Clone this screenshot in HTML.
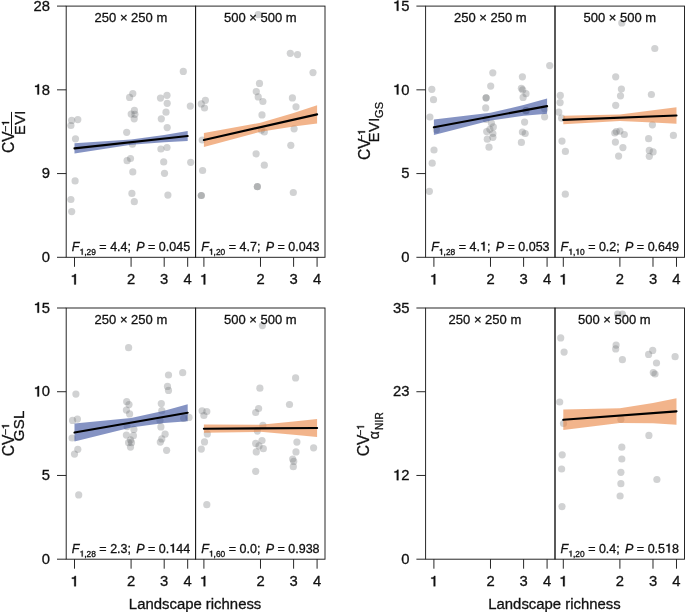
<!DOCTYPE html>
<html><head><meta charset="utf-8"><style>
html,body{margin:0;padding:0;background:#fff;width:685px;height:612px;overflow:hidden}
svg{display:block;font-family:"Liberation Sans",sans-serif;fill:#000;will-change:transform}
text{fill:#111;stroke:#111;stroke-width:0.3px}
</style></head><body>
<svg width="685" height="612" viewBox="0 0 685 612">
<rect width="685" height="612" fill="#fff"/>
<circle cx="183.3" cy="71.4" r="3.6" fill="rgba(108,110,114,0.31)"/>
<circle cx="132.8" cy="93.6" r="3.6" fill="rgba(108,110,114,0.31)"/>
<circle cx="129.6" cy="97.4" r="3.6" fill="rgba(108,110,114,0.31)"/>
<circle cx="167" cy="95.3" r="3.6" fill="rgba(108,110,114,0.31)"/>
<circle cx="160.5" cy="98.1" r="3.6" fill="rgba(108,110,114,0.31)"/>
<circle cx="167.2" cy="103.3" r="3.6" fill="rgba(108,110,114,0.31)"/>
<circle cx="190.3" cy="106.1" r="3.6" fill="rgba(108,110,114,0.31)"/>
<circle cx="134.4" cy="110.4" r="3.6" fill="rgba(108,110,114,0.31)"/>
<circle cx="131.2" cy="114.1" r="3.6" fill="rgba(108,110,114,0.31)"/>
<circle cx="134.9" cy="114.3" r="3.6" fill="rgba(108,110,114,0.31)"/>
<circle cx="134.2" cy="118.8" r="3.6" fill="rgba(108,110,114,0.31)"/>
<circle cx="166" cy="112.2" r="3.6" fill="rgba(108,110,114,0.31)"/>
<circle cx="161.3" cy="118.8" r="3.6" fill="rgba(108,110,114,0.31)"/>
<circle cx="167.2" cy="127.6" r="3.6" fill="rgba(108,110,114,0.31)"/>
<circle cx="126.7" cy="132.3" r="3.6" fill="rgba(108,110,114,0.31)"/>
<circle cx="71.7" cy="120.4" r="3.6" fill="rgba(108,110,114,0.31)"/>
<circle cx="77.8" cy="119.6" r="3.6" fill="rgba(108,110,114,0.31)"/>
<circle cx="70.9" cy="125.5" r="3.6" fill="rgba(108,110,114,0.31)"/>
<circle cx="75.5" cy="138.8" r="3.6" fill="rgba(108,110,114,0.31)"/>
<circle cx="132.4" cy="144.2" r="3.6" fill="rgba(108,110,114,0.31)"/>
<circle cx="160.9" cy="149" r="3.6" fill="rgba(108,110,114,0.31)"/>
<circle cx="167" cy="147.5" r="3.6" fill="rgba(108,110,114,0.31)"/>
<circle cx="130.5" cy="158.5" r="3.6" fill="rgba(108,110,114,0.31)"/>
<circle cx="127.1" cy="160.7" r="3.6" fill="rgba(108,110,114,0.31)"/>
<circle cx="163.7" cy="161.9" r="3.6" fill="rgba(108,110,114,0.31)"/>
<circle cx="190.7" cy="162.3" r="3.6" fill="rgba(108,110,114,0.31)"/>
<circle cx="132.8" cy="171.9" r="3.6" fill="rgba(108,110,114,0.31)"/>
<circle cx="164.5" cy="173.3" r="3.6" fill="rgba(108,110,114,0.31)"/>
<circle cx="75.1" cy="180.9" r="3.6" fill="rgba(108,110,114,0.31)"/>
<circle cx="131.9" cy="193.4" r="3.6" fill="rgba(108,110,114,0.31)"/>
<circle cx="167.9" cy="195.1" r="3.6" fill="rgba(108,110,114,0.31)"/>
<circle cx="134.3" cy="201.7" r="3.6" fill="rgba(108,110,114,0.31)"/>
<circle cx="70.9" cy="199.5" r="3.6" fill="rgba(108,110,114,0.31)"/>
<circle cx="71.7" cy="211.6" r="3.6" fill="rgba(108,110,114,0.31)"/>
<circle cx="258.2" cy="14.7" r="3.6" fill="rgba(108,110,114,0.31)"/>
<circle cx="290.3" cy="53.3" r="3.6" fill="rgba(108,110,114,0.31)"/>
<circle cx="297.5" cy="54.6" r="3.6" fill="rgba(108,110,114,0.31)"/>
<circle cx="313" cy="72.6" r="3.6" fill="rgba(108,110,114,0.31)"/>
<circle cx="259.5" cy="83.4" r="3.6" fill="rgba(108,110,114,0.31)"/>
<circle cx="256.3" cy="91.6" r="3.6" fill="rgba(108,110,114,0.31)"/>
<circle cx="258.2" cy="96.9" r="3.6" fill="rgba(108,110,114,0.31)"/>
<circle cx="262.9" cy="101.5" r="3.6" fill="rgba(108,110,114,0.31)"/>
<circle cx="292.4" cy="97.9" r="3.6" fill="rgba(108,110,114,0.31)"/>
<circle cx="296" cy="106.8" r="3.6" fill="rgba(108,110,114,0.31)"/>
<circle cx="205.4" cy="100.3" r="3.6" fill="rgba(108,110,114,0.31)"/>
<circle cx="201.3" cy="103.9" r="3.6" fill="rgba(108,110,114,0.31)"/>
<circle cx="204.5" cy="108" r="3.6" fill="rgba(108,110,114,0.31)"/>
<circle cx="262" cy="114.9" r="3.6" fill="rgba(108,110,114,0.31)"/>
<circle cx="294.1" cy="128.8" r="3.6" fill="rgba(108,110,114,0.31)"/>
<circle cx="261.4" cy="130.1" r="3.6" fill="rgba(108,110,114,0.31)"/>
<circle cx="264.3" cy="132" r="3.6" fill="rgba(108,110,114,0.31)"/>
<circle cx="202.2" cy="140" r="3.6" fill="rgba(108,110,114,0.31)"/>
<circle cx="290.8" cy="145.3" r="3.6" fill="rgba(108,110,114,0.31)"/>
<circle cx="256.1" cy="153.8" r="3.6" fill="rgba(108,110,114,0.31)"/>
<circle cx="264.3" cy="165.2" r="3.6" fill="rgba(108,110,114,0.31)"/>
<circle cx="202.6" cy="170.5" r="3.6" fill="rgba(108,110,114,0.31)"/>
<circle cx="257.3" cy="186.7" r="3.6" fill="rgba(108,110,114,0.31)"/>
<circle cx="257.3" cy="186.7" r="3.6" fill="rgba(108,110,114,0.31)"/>
<circle cx="293.3" cy="192.5" r="3.6" fill="rgba(108,110,114,0.31)"/>
<circle cx="201.3" cy="195.5" r="3.6" fill="rgba(108,110,114,0.31)"/>
<circle cx="201.3" cy="195.5" r="3.6" fill="rgba(108,110,114,0.31)"/>
<circle cx="549.7" cy="65.6" r="3.6" fill="rgba(108,110,114,0.31)"/>
<circle cx="492.8" cy="72.8" r="3.6" fill="rgba(108,110,114,0.31)"/>
<circle cx="522.4" cy="76.8" r="3.6" fill="rgba(108,110,114,0.31)"/>
<circle cx="490.7" cy="86.1" r="3.6" fill="rgba(108,110,114,0.31)"/>
<circle cx="431.8" cy="89.3" r="3.6" fill="rgba(108,110,114,0.31)"/>
<circle cx="521.4" cy="88.3" r="3.6" fill="rgba(108,110,114,0.31)"/>
<circle cx="522.7" cy="89.9" r="3.6" fill="rgba(108,110,114,0.31)"/>
<circle cx="526" cy="93.7" r="3.6" fill="rgba(108,110,114,0.31)"/>
<circle cx="523.1" cy="97.4" r="3.6" fill="rgba(108,110,114,0.31)"/>
<circle cx="486.1" cy="97.8" r="3.6" fill="rgba(108,110,114,0.31)"/>
<circle cx="486.1" cy="97.8" r="3.6" fill="rgba(108,110,114,0.31)"/>
<circle cx="433.5" cy="99.7" r="3.6" fill="rgba(108,110,114,0.31)"/>
<circle cx="485.7" cy="107.9" r="3.6" fill="rgba(108,110,114,0.31)"/>
<circle cx="526" cy="110.7" r="3.6" fill="rgba(108,110,114,0.31)"/>
<circle cx="526" cy="110.7" r="3.6" fill="rgba(108,110,114,0.31)"/>
<circle cx="544.6" cy="108.8" r="3.6" fill="rgba(108,110,114,0.31)"/>
<circle cx="429.9" cy="117" r="3.6" fill="rgba(108,110,114,0.31)"/>
<circle cx="544.6" cy="116.8" r="3.6" fill="rgba(108,110,114,0.31)"/>
<circle cx="486.1" cy="119.3" r="3.6" fill="rgba(108,110,114,0.31)"/>
<circle cx="491.4" cy="123.1" r="3.6" fill="rgba(108,110,114,0.31)"/>
<circle cx="524.6" cy="122.1" r="3.6" fill="rgba(108,110,114,0.31)"/>
<circle cx="493.3" cy="126.9" r="3.6" fill="rgba(108,110,114,0.31)"/>
<circle cx="489.9" cy="129.3" r="3.6" fill="rgba(108,110,114,0.31)"/>
<circle cx="486.7" cy="131.6" r="3.6" fill="rgba(108,110,114,0.31)"/>
<circle cx="492.9" cy="133.5" r="3.6" fill="rgba(108,110,114,0.31)"/>
<circle cx="492.9" cy="137.3" r="3.6" fill="rgba(108,110,114,0.31)"/>
<circle cx="487.3" cy="139.2" r="3.6" fill="rgba(108,110,114,0.31)"/>
<circle cx="522.4" cy="132" r="3.6" fill="rgba(108,110,114,0.31)"/>
<circle cx="525.2" cy="133.5" r="3.6" fill="rgba(108,110,114,0.31)"/>
<circle cx="521.4" cy="142.4" r="3.6" fill="rgba(108,110,114,0.31)"/>
<circle cx="489" cy="147.2" r="3.6" fill="rgba(108,110,114,0.31)"/>
<circle cx="436.4" cy="129.7" r="3.6" fill="rgba(108,110,114,0.31)"/>
<circle cx="434" cy="150" r="3.6" fill="rgba(108,110,114,0.31)"/>
<circle cx="432.2" cy="163.2" r="3.6" fill="rgba(108,110,114,0.31)"/>
<circle cx="429.4" cy="191.3" r="3.6" fill="rgba(108,110,114,0.31)"/>
<circle cx="621.8" cy="22.9" r="3.6" fill="rgba(108,110,114,0.31)"/>
<circle cx="654.8" cy="48.5" r="3.6" fill="rgba(108,110,114,0.31)"/>
<circle cx="615.7" cy="76.8" r="3.6" fill="rgba(108,110,114,0.31)"/>
<circle cx="621.4" cy="89" r="3.6" fill="rgba(108,110,114,0.31)"/>
<circle cx="620.5" cy="95.8" r="3.6" fill="rgba(108,110,114,0.31)"/>
<circle cx="651.4" cy="94.5" r="3.6" fill="rgba(108,110,114,0.31)"/>
<circle cx="560.3" cy="95.4" r="3.6" fill="rgba(108,110,114,0.31)"/>
<circle cx="560.1" cy="102.6" r="3.6" fill="rgba(108,110,114,0.31)"/>
<circle cx="615.7" cy="105.3" r="3.6" fill="rgba(108,110,114,0.31)"/>
<circle cx="558.8" cy="112.1" r="3.6" fill="rgba(108,110,114,0.31)"/>
<circle cx="561.6" cy="118.2" r="3.6" fill="rgba(108,110,114,0.31)"/>
<circle cx="652.4" cy="124.8" r="3.6" fill="rgba(108,110,114,0.31)"/>
<circle cx="614.8" cy="133.0" r="3.6" fill="rgba(108,110,114,0.31)"/>
<circle cx="616.3" cy="131.6" r="3.6" fill="rgba(108,110,114,0.31)"/>
<circle cx="619.9" cy="131.1" r="3.6" fill="rgba(108,110,114,0.31)"/>
<circle cx="624.3" cy="134.5" r="3.6" fill="rgba(108,110,114,0.31)"/>
<circle cx="673.4" cy="135.4" r="3.6" fill="rgba(108,110,114,0.31)"/>
<circle cx="648.6" cy="138.7" r="3.6" fill="rgba(108,110,114,0.31)"/>
<circle cx="562" cy="141.1" r="3.6" fill="rgba(108,110,114,0.31)"/>
<circle cx="615.4" cy="142.1" r="3.6" fill="rgba(108,110,114,0.31)"/>
<circle cx="622.9" cy="147.6" r="3.6" fill="rgba(108,110,114,0.31)"/>
<circle cx="565.4" cy="151.4" r="3.6" fill="rgba(108,110,114,0.31)"/>
<circle cx="649.3" cy="150.4" r="3.6" fill="rgba(108,110,114,0.31)"/>
<circle cx="653.1" cy="151.9" r="3.6" fill="rgba(108,110,114,0.31)"/>
<circle cx="618.6" cy="156.1" r="3.6" fill="rgba(108,110,114,0.31)"/>
<circle cx="649.3" cy="156.3" r="3.6" fill="rgba(108,110,114,0.31)"/>
<circle cx="565.3" cy="194.2" r="3.6" fill="rgba(108,110,114,0.31)"/>
<circle cx="128.6" cy="347.7" r="3.6" fill="rgba(108,110,114,0.31)"/>
<circle cx="75.9" cy="394.1" r="3.6" fill="rgba(108,110,114,0.31)"/>
<circle cx="168.5" cy="375" r="3.6" fill="rgba(108,110,114,0.31)"/>
<circle cx="182.7" cy="372.7" r="3.6" fill="rgba(108,110,114,0.31)"/>
<circle cx="167.5" cy="386.4" r="3.6" fill="rgba(108,110,114,0.31)"/>
<circle cx="168.5" cy="390.4" r="3.6" fill="rgba(108,110,114,0.31)"/>
<circle cx="126.7" cy="401.7" r="3.6" fill="rgba(108,110,114,0.31)"/>
<circle cx="129" cy="404.6" r="3.6" fill="rgba(108,110,114,0.31)"/>
<circle cx="126.4" cy="410.1" r="3.6" fill="rgba(108,110,114,0.31)"/>
<circle cx="129.6" cy="413.9" r="3.6" fill="rgba(108,110,114,0.31)"/>
<circle cx="161.3" cy="403.6" r="3.6" fill="rgba(108,110,114,0.31)"/>
<circle cx="161.8" cy="410.7" r="3.6" fill="rgba(108,110,114,0.31)"/>
<circle cx="72.6" cy="420.4" r="3.6" fill="rgba(108,110,114,0.31)"/>
<circle cx="77.4" cy="419.1" r="3.6" fill="rgba(108,110,114,0.31)"/>
<circle cx="183.7" cy="418.3" r="3.6" fill="rgba(108,110,114,0.31)"/>
<circle cx="189" cy="417.4" r="3.6" fill="rgba(108,110,114,0.31)"/>
<circle cx="160" cy="420.5" r="3.6" fill="rgba(108,110,114,0.31)"/>
<circle cx="160.9" cy="426.9" r="3.6" fill="rgba(108,110,114,0.31)"/>
<circle cx="72.1" cy="438" r="3.6" fill="rgba(108,110,114,0.31)"/>
<circle cx="77.8" cy="449.3" r="3.6" fill="rgba(108,110,114,0.31)"/>
<circle cx="74.5" cy="454.1" r="3.6" fill="rgba(108,110,114,0.31)"/>
<circle cx="127.1" cy="426.6" r="3.6" fill="rgba(108,110,114,0.31)"/>
<circle cx="133.9" cy="429.4" r="3.6" fill="rgba(108,110,114,0.31)"/>
<circle cx="126.4" cy="435.1" r="3.6" fill="rgba(108,110,114,0.31)"/>
<circle cx="133.4" cy="435.7" r="3.6" fill="rgba(108,110,114,0.31)"/>
<circle cx="130.5" cy="439.9" r="3.6" fill="rgba(108,110,114,0.31)"/>
<circle cx="128.6" cy="442.7" r="3.6" fill="rgba(108,110,114,0.31)"/>
<circle cx="131.5" cy="442.7" r="3.6" fill="rgba(108,110,114,0.31)"/>
<circle cx="130.5" cy="447.1" r="3.6" fill="rgba(108,110,114,0.31)"/>
<circle cx="165.1" cy="434.2" r="3.6" fill="rgba(108,110,114,0.31)"/>
<circle cx="161.8" cy="438.9" r="3.6" fill="rgba(108,110,114,0.31)"/>
<circle cx="160.3" cy="442.1" r="3.6" fill="rgba(108,110,114,0.31)"/>
<circle cx="166.6" cy="450.3" r="3.6" fill="rgba(108,110,114,0.31)"/>
<circle cx="78.7" cy="494.9" r="3.6" fill="rgba(108,110,114,0.31)"/>
<circle cx="262.4" cy="325.6" r="3.6" fill="rgba(108,110,114,0.31)"/>
<circle cx="295.6" cy="377.9" r="3.6" fill="rgba(108,110,114,0.31)"/>
<circle cx="259.9" cy="388.2" r="3.6" fill="rgba(108,110,114,0.31)"/>
<circle cx="289.5" cy="404.5" r="3.6" fill="rgba(108,110,114,0.31)"/>
<circle cx="258.6" cy="408.5" r="3.6" fill="rgba(108,110,114,0.31)"/>
<circle cx="202.1" cy="410.8" r="3.6" fill="rgba(108,110,114,0.31)"/>
<circle cx="206.8" cy="411.5" r="3.6" fill="rgba(108,110,114,0.31)"/>
<circle cx="203.9" cy="415.5" r="3.6" fill="rgba(108,110,114,0.31)"/>
<circle cx="255.7" cy="412.5" r="3.6" fill="rgba(108,110,114,0.31)"/>
<circle cx="262.9" cy="425.4" r="3.6" fill="rgba(108,110,114,0.31)"/>
<circle cx="257.3" cy="431.1" r="3.6" fill="rgba(108,110,114,0.31)"/>
<circle cx="207.3" cy="433.9" r="3.6" fill="rgba(108,110,114,0.31)"/>
<circle cx="204.5" cy="441.9" r="3.6" fill="rgba(108,110,114,0.31)"/>
<circle cx="201.3" cy="449.1" r="3.6" fill="rgba(108,110,114,0.31)"/>
<circle cx="262" cy="440.5" r="3.6" fill="rgba(108,110,114,0.31)"/>
<circle cx="255.7" cy="443.4" r="3.6" fill="rgba(108,110,114,0.31)"/>
<circle cx="259" cy="445.9" r="3.6" fill="rgba(108,110,114,0.31)"/>
<circle cx="263.3" cy="448.7" r="3.6" fill="rgba(108,110,114,0.31)"/>
<circle cx="256.3" cy="451.9" r="3.6" fill="rgba(108,110,114,0.31)"/>
<circle cx="296.9" cy="442.1" r="3.6" fill="rgba(108,110,114,0.31)"/>
<circle cx="313.6" cy="447.8" r="3.6" fill="rgba(108,110,114,0.31)"/>
<circle cx="296" cy="451.9" r="3.6" fill="rgba(108,110,114,0.31)"/>
<circle cx="292.7" cy="459.1" r="3.6" fill="rgba(108,110,114,0.31)"/>
<circle cx="293.7" cy="461.4" r="3.6" fill="rgba(108,110,114,0.31)"/>
<circle cx="293.3" cy="466.7" r="3.6" fill="rgba(108,110,114,0.31)"/>
<circle cx="255.7" cy="471.3" r="3.6" fill="rgba(108,110,114,0.31)"/>
<circle cx="206.8" cy="504.7" r="3.6" fill="rgba(108,110,114,0.31)"/>
<circle cx="617.6" cy="314.2" r="3.6" fill="rgba(108,110,114,0.31)"/>
<circle cx="622.4" cy="314.2" r="3.6" fill="rgba(108,110,114,0.31)"/>
<circle cx="560.7" cy="337.9" r="3.6" fill="rgba(108,110,114,0.31)"/>
<circle cx="564.1" cy="352.1" r="3.6" fill="rgba(108,110,114,0.31)"/>
<circle cx="616.1" cy="345.1" r="3.6" fill="rgba(108,110,114,0.31)"/>
<circle cx="615.7" cy="348.9" r="3.6" fill="rgba(108,110,114,0.31)"/>
<circle cx="622.4" cy="359.7" r="3.6" fill="rgba(108,110,114,0.31)"/>
<circle cx="652.7" cy="350.4" r="3.6" fill="rgba(108,110,114,0.31)"/>
<circle cx="648.6" cy="354.4" r="3.6" fill="rgba(108,110,114,0.31)"/>
<circle cx="656.5" cy="363" r="3.6" fill="rgba(108,110,114,0.31)"/>
<circle cx="675.1" cy="356.7" r="3.6" fill="rgba(108,110,114,0.31)"/>
<circle cx="653.3" cy="372.6" r="3.6" fill="rgba(108,110,114,0.31)"/>
<circle cx="655" cy="374" r="3.6" fill="rgba(108,110,114,0.31)"/>
<circle cx="559.7" cy="402" r="3.6" fill="rgba(108,110,114,0.31)"/>
<circle cx="563.5" cy="423.5" r="3.6" fill="rgba(108,110,114,0.31)"/>
<circle cx="620.9" cy="419.3" r="3.6" fill="rgba(108,110,114,0.31)"/>
<circle cx="648.9" cy="435.4" r="3.6" fill="rgba(108,110,114,0.31)"/>
<circle cx="621.8" cy="447.2" r="3.6" fill="rgba(108,110,114,0.31)"/>
<circle cx="562.2" cy="454.8" r="3.6" fill="rgba(108,110,114,0.31)"/>
<circle cx="621.8" cy="459" r="3.6" fill="rgba(108,110,114,0.31)"/>
<circle cx="561.6" cy="469" r="3.6" fill="rgba(108,110,114,0.31)"/>
<circle cx="620.9" cy="472.3" r="3.6" fill="rgba(108,110,114,0.31)"/>
<circle cx="656.9" cy="479.5" r="3.6" fill="rgba(108,110,114,0.31)"/>
<circle cx="620.9" cy="483.7" r="3.6" fill="rgba(108,110,114,0.31)"/>
<circle cx="620.1" cy="496" r="3.6" fill="rgba(108,110,114,0.31)"/>
<circle cx="562" cy="506.6" r="3.6" fill="rgba(108,110,114,0.31)"/>
<polygon points="74.50,143.20 131.09,139.60 164.20,134.94 187.69,130.90 187.69,141.10 164.20,142.21 131.09,144.80 74.50,153.60" fill="rgba(40,65,150,0.57)"/><line x1="74.50" y1="148.4" x2="187.69" y2="136.0" stroke="#000" stroke-width="2.15" stroke-linecap="round"/>
<polygon points="203.90,132.90 260.49,122.75 293.60,113.01 317.09,105.35 317.09,123.45 293.60,126.41 260.49,131.65 203.90,147.10" fill="rgba(234,130,62,0.6)"/><line x1="203.90" y1="140.0" x2="317.09" y2="114.4" stroke="#000" stroke-width="2.15" stroke-linecap="round"/>
<polygon points="433.90,119.40 490.49,112.85 523.60,105.10 547.09,98.50 547.09,113.70 523.60,115.85 490.49,120.45 433.90,135.00" fill="rgba(40,65,150,0.57)"/><line x1="433.90" y1="127.2" x2="547.09" y2="106.1" stroke="#000" stroke-width="2.15" stroke-linecap="round"/>
<polygon points="563.30,115.65 619.89,114.40 653.00,110.37 676.49,107.25 676.49,123.75 653.00,122.46 619.89,121.00 563.30,124.15" fill="rgba(234,130,62,0.6)"/><line x1="563.30" y1="119.9" x2="676.49" y2="115.5" stroke="#000" stroke-width="2.15" stroke-linecap="round"/>
<polygon points="74.50,423.50 131.09,417.90 164.20,410.71 187.69,404.35 187.69,421.25 164.20,423.06 131.09,427.40 74.50,441.50" fill="rgba(40,65,150,0.57)"/><line x1="74.50" y1="432.5" x2="187.69" y2="412.8" stroke="#000" stroke-width="2.15" stroke-linecap="round"/>
<polygon points="203.90,424.55 260.49,424.85 293.60,421.61 317.09,419.10 317.09,436.90 293.60,434.68 260.49,431.85 203.90,432.85" fill="rgba(234,130,62,0.6)"/><line x1="203.90" y1="428.7" x2="317.09" y2="428.0" stroke="#000" stroke-width="2.15" stroke-linecap="round"/>
<polygon points="563.30,409.60 619.89,408.30 653.00,402.95 676.49,398.15 676.49,424.65 653.00,423.33 619.89,422.90 563.30,430.00" fill="rgba(234,130,62,0.6)"/><line x1="563.30" y1="419.8" x2="676.49" y2="411.4" stroke="#000" stroke-width="2.15" stroke-linecap="round"/>
<rect x="66.2" y="6.1" width="129.39999999999998" height="251.20000000000002" fill="none" stroke="#1c1c1c" stroke-width="0.95"/><rect x="195.6" y="6.1" width="129.4" height="251.20000000000002" fill="none" stroke="#1c1c1c" stroke-width="0.95"/><line x1="57.0" y1="6.1" x2="66.2" y2="6.1" stroke="#1c1c1c" stroke-width="0.95"/><line x1="57.0" y1="89.83333333333333" x2="66.2" y2="89.83333333333333" stroke="#1c1c1c" stroke-width="0.95"/><line x1="57.0" y1="173.56666666666666" x2="66.2" y2="173.56666666666666" stroke="#1c1c1c" stroke-width="0.95"/><line x1="57.0" y1="257.3" x2="66.2" y2="257.3" stroke="#1c1c1c" stroke-width="0.95"/><line x1="74.5" y1="257.3" x2="74.5" y2="266.8" stroke="#1c1c1c" stroke-width="0.95"/><line x1="131.09363918482848" y1="257.3" x2="131.09363918482848" y2="266.8" stroke="#1c1c1c" stroke-width="0.95"/><line x1="164.19879588729654" y1="257.3" x2="164.19879588729654" y2="266.8" stroke="#1c1c1c" stroke-width="0.95"/><line x1="187.68727836965695" y1="257.3" x2="187.68727836965695" y2="266.8" stroke="#1c1c1c" stroke-width="0.95"/><line x1="203.9" y1="257.3" x2="203.9" y2="266.8" stroke="#1c1c1c" stroke-width="0.95"/><line x1="260.49363918482845" y1="257.3" x2="260.49363918482845" y2="266.8" stroke="#1c1c1c" stroke-width="0.95"/><line x1="293.59879588729655" y1="257.3" x2="293.59879588729655" y2="266.8" stroke="#1c1c1c" stroke-width="0.95"/><line x1="317.08727836965693" y1="257.3" x2="317.08727836965693" y2="266.8" stroke="#1c1c1c" stroke-width="0.95"/>
<rect x="66.2" y="308.0" width="129.39999999999998" height="251.20000000000005" fill="none" stroke="#1c1c1c" stroke-width="0.95"/><rect x="195.6" y="308.0" width="129.4" height="251.20000000000005" fill="none" stroke="#1c1c1c" stroke-width="0.95"/><line x1="57.0" y1="308.0" x2="66.2" y2="308.0" stroke="#1c1c1c" stroke-width="0.95"/><line x1="57.0" y1="391.73333333333335" x2="66.2" y2="391.73333333333335" stroke="#1c1c1c" stroke-width="0.95"/><line x1="57.0" y1="475.4666666666667" x2="66.2" y2="475.4666666666667" stroke="#1c1c1c" stroke-width="0.95"/><line x1="57.0" y1="559.2" x2="66.2" y2="559.2" stroke="#1c1c1c" stroke-width="0.95"/><line x1="74.5" y1="559.2" x2="74.5" y2="568.7" stroke="#1c1c1c" stroke-width="0.95"/><line x1="131.09363918482848" y1="559.2" x2="131.09363918482848" y2="568.7" stroke="#1c1c1c" stroke-width="0.95"/><line x1="164.19879588729654" y1="559.2" x2="164.19879588729654" y2="568.7" stroke="#1c1c1c" stroke-width="0.95"/><line x1="187.68727836965695" y1="559.2" x2="187.68727836965695" y2="568.7" stroke="#1c1c1c" stroke-width="0.95"/><line x1="203.9" y1="559.2" x2="203.9" y2="568.7" stroke="#1c1c1c" stroke-width="0.95"/><line x1="260.49363918482845" y1="559.2" x2="260.49363918482845" y2="568.7" stroke="#1c1c1c" stroke-width="0.95"/><line x1="293.59879588729655" y1="559.2" x2="293.59879588729655" y2="568.7" stroke="#1c1c1c" stroke-width="0.95"/><line x1="317.08727836965693" y1="559.2" x2="317.08727836965693" y2="568.7" stroke="#1c1c1c" stroke-width="0.95"/>
<rect x="425.6" y="6.1" width="129.39999999999998" height="251.20000000000002" fill="none" stroke="#1c1c1c" stroke-width="0.95"/><rect x="555.0" y="6.1" width="129.5" height="251.20000000000002" fill="none" stroke="#1c1c1c" stroke-width="0.95"/><line x1="416.40000000000003" y1="6.1" x2="425.6" y2="6.1" stroke="#1c1c1c" stroke-width="0.95"/><line x1="416.40000000000003" y1="89.83333333333333" x2="425.6" y2="89.83333333333333" stroke="#1c1c1c" stroke-width="0.95"/><line x1="416.40000000000003" y1="173.56666666666666" x2="425.6" y2="173.56666666666666" stroke="#1c1c1c" stroke-width="0.95"/><line x1="416.40000000000003" y1="257.3" x2="425.6" y2="257.3" stroke="#1c1c1c" stroke-width="0.95"/><line x1="433.90000000000003" y1="257.3" x2="433.90000000000003" y2="266.8" stroke="#1c1c1c" stroke-width="0.95"/><line x1="490.4936391848285" y1="257.3" x2="490.4936391848285" y2="266.8" stroke="#1c1c1c" stroke-width="0.95"/><line x1="523.5987958872965" y1="257.3" x2="523.5987958872965" y2="266.8" stroke="#1c1c1c" stroke-width="0.95"/><line x1="547.0872783696569" y1="257.3" x2="547.0872783696569" y2="266.8" stroke="#1c1c1c" stroke-width="0.95"/><line x1="563.3" y1="257.3" x2="563.3" y2="266.8" stroke="#1c1c1c" stroke-width="0.95"/><line x1="619.8936391848284" y1="257.3" x2="619.8936391848284" y2="266.8" stroke="#1c1c1c" stroke-width="0.95"/><line x1="652.9987958872965" y1="257.3" x2="652.9987958872965" y2="266.8" stroke="#1c1c1c" stroke-width="0.95"/><line x1="676.4872783696569" y1="257.3" x2="676.4872783696569" y2="266.8" stroke="#1c1c1c" stroke-width="0.95"/>
<rect x="425.6" y="308.0" width="129.39999999999998" height="251.20000000000005" fill="none" stroke="#1c1c1c" stroke-width="0.95"/><rect x="555.0" y="308.0" width="129.5" height="251.20000000000005" fill="none" stroke="#1c1c1c" stroke-width="0.95"/><line x1="416.40000000000003" y1="308.0" x2="425.6" y2="308.0" stroke="#1c1c1c" stroke-width="0.95"/><line x1="416.40000000000003" y1="391.73333333333335" x2="425.6" y2="391.73333333333335" stroke="#1c1c1c" stroke-width="0.95"/><line x1="416.40000000000003" y1="475.4666666666667" x2="425.6" y2="475.4666666666667" stroke="#1c1c1c" stroke-width="0.95"/><line x1="416.40000000000003" y1="559.2" x2="425.6" y2="559.2" stroke="#1c1c1c" stroke-width="0.95"/><line x1="433.90000000000003" y1="559.2" x2="433.90000000000003" y2="568.7" stroke="#1c1c1c" stroke-width="0.95"/><line x1="490.4936391848285" y1="559.2" x2="490.4936391848285" y2="568.7" stroke="#1c1c1c" stroke-width="0.95"/><line x1="523.5987958872965" y1="559.2" x2="523.5987958872965" y2="568.7" stroke="#1c1c1c" stroke-width="0.95"/><line x1="547.0872783696569" y1="559.2" x2="547.0872783696569" y2="568.7" stroke="#1c1c1c" stroke-width="0.95"/><line x1="563.3" y1="559.2" x2="563.3" y2="568.7" stroke="#1c1c1c" stroke-width="0.95"/><line x1="619.8936391848284" y1="559.2" x2="619.8936391848284" y2="568.7" stroke="#1c1c1c" stroke-width="0.95"/><line x1="652.9987958872965" y1="559.2" x2="652.9987958872965" y2="568.7" stroke="#1c1c1c" stroke-width="0.95"/><line x1="676.4872783696569" y1="559.2" x2="676.4872783696569" y2="568.7" stroke="#1c1c1c" stroke-width="0.95"/>
<text x="33.54" y="10.80" font-size="14.8">2</text><text x="41.77" y="10.80" font-size="14.8">8</text>
<path d="M372 0L372 703L292 703C272 630 225 596 100 588L100 512L260 512L260 0Z" transform="translate(33.54,94.53) scale(0.01480,-0.01480)" fill="#111" stroke="#111" stroke-width="20.3"/><text x="41.77" y="94.53" font-size="14.8">8</text>
<text x="41.77" y="178.27" font-size="14.8">9</text>
<text x="41.77" y="262.00" font-size="14.8">0</text>
<path d="M372 0L372 703L292 703C272 630 225 596 100 588L100 512L260 512L260 0Z" transform="translate(70.39,284.40) scale(0.01480,-0.01480)" fill="#111" stroke="#111" stroke-width="20.3"/>
<text x="126.98" y="284.40" font-size="14.8">2</text>
<text x="160.08" y="284.40" font-size="14.8">3</text>
<text x="183.57" y="284.40" font-size="14.8">4</text>
<path d="M372 0L372 703L292 703C272 630 225 596 100 588L100 512L260 512L260 0Z" transform="translate(199.79,284.40) scale(0.01480,-0.01480)" fill="#111" stroke="#111" stroke-width="20.3"/>
<text x="256.38" y="284.40" font-size="14.8">2</text>
<text x="289.48" y="284.40" font-size="14.8">3</text>
<text x="312.97" y="284.40" font-size="14.8">4</text>
<path d="M372 0L372 703L292 703C272 630 225 596 100 588L100 512L260 512L260 0Z" transform="translate(392.94,10.80) scale(0.01480,-0.01480)" fill="#111" stroke="#111" stroke-width="20.3"/><text x="401.17" y="10.80" font-size="14.8">5</text>
<path d="M372 0L372 703L292 703C272 630 225 596 100 588L100 512L260 512L260 0Z" transform="translate(392.94,94.53) scale(0.01480,-0.01480)" fill="#111" stroke="#111" stroke-width="20.3"/><text x="401.17" y="94.53" font-size="14.8">0</text>
<text x="401.17" y="178.27" font-size="14.8">5</text>
<text x="401.17" y="262.00" font-size="14.8">0</text>
<path d="M372 0L372 703L292 703C272 630 225 596 100 588L100 512L260 512L260 0Z" transform="translate(429.79,284.40) scale(0.01480,-0.01480)" fill="#111" stroke="#111" stroke-width="20.3"/>
<text x="486.38" y="284.40" font-size="14.8">2</text>
<text x="519.48" y="284.40" font-size="14.8">3</text>
<text x="542.97" y="284.40" font-size="14.8">4</text>
<path d="M372 0L372 703L292 703C272 630 225 596 100 588L100 512L260 512L260 0Z" transform="translate(559.19,284.40) scale(0.01480,-0.01480)" fill="#111" stroke="#111" stroke-width="20.3"/>
<text x="615.78" y="284.40" font-size="14.8">2</text>
<text x="648.88" y="284.40" font-size="14.8">3</text>
<text x="672.37" y="284.40" font-size="14.8">4</text>
<path d="M372 0L372 703L292 703C272 630 225 596 100 588L100 512L260 512L260 0Z" transform="translate(33.54,312.70) scale(0.01480,-0.01480)" fill="#111" stroke="#111" stroke-width="20.3"/><text x="41.77" y="312.70" font-size="14.8">5</text>
<path d="M372 0L372 703L292 703C272 630 225 596 100 588L100 512L260 512L260 0Z" transform="translate(33.54,396.43) scale(0.01480,-0.01480)" fill="#111" stroke="#111" stroke-width="20.3"/><text x="41.77" y="396.43" font-size="14.8">0</text>
<text x="41.77" y="480.17" font-size="14.8">5</text>
<text x="41.77" y="563.90" font-size="14.8">0</text>
<path d="M372 0L372 703L292 703C272 630 225 596 100 588L100 512L260 512L260 0Z" transform="translate(70.39,586.30) scale(0.01480,-0.01480)" fill="#111" stroke="#111" stroke-width="20.3"/>
<text x="126.98" y="586.30" font-size="14.8">2</text>
<text x="160.08" y="586.30" font-size="14.8">3</text>
<text x="183.57" y="586.30" font-size="14.8">4</text>
<path d="M372 0L372 703L292 703C272 630 225 596 100 588L100 512L260 512L260 0Z" transform="translate(199.79,586.30) scale(0.01480,-0.01480)" fill="#111" stroke="#111" stroke-width="20.3"/>
<text x="256.38" y="586.30" font-size="14.8">2</text>
<text x="289.48" y="586.30" font-size="14.8">3</text>
<text x="312.97" y="586.30" font-size="14.8">4</text>
<text x="392.94" y="312.70" font-size="14.8">3</text><text x="401.17" y="312.70" font-size="14.8">5</text>
<text x="392.94" y="396.43" font-size="14.8">2</text><text x="401.17" y="396.43" font-size="14.8">3</text>
<path d="M372 0L372 703L292 703C272 630 225 596 100 588L100 512L260 512L260 0Z" transform="translate(392.94,480.17) scale(0.01480,-0.01480)" fill="#111" stroke="#111" stroke-width="20.3"/><text x="401.17" y="480.17" font-size="14.8">2</text>
<text x="401.17" y="563.90" font-size="14.8">0</text>
<path d="M372 0L372 703L292 703C272 630 225 596 100 588L100 512L260 512L260 0Z" transform="translate(429.79,586.30) scale(0.01480,-0.01480)" fill="#111" stroke="#111" stroke-width="20.3"/>
<text x="486.38" y="586.30" font-size="14.8">2</text>
<text x="519.48" y="586.30" font-size="14.8">3</text>
<text x="542.97" y="586.30" font-size="14.8">4</text>
<path d="M372 0L372 703L292 703C272 630 225 596 100 588L100 512L260 512L260 0Z" transform="translate(559.19,586.30) scale(0.01480,-0.01480)" fill="#111" stroke="#111" stroke-width="20.3"/>
<text x="615.78" y="586.30" font-size="14.8">2</text>
<text x="648.88" y="586.30" font-size="14.8">3</text>
<text x="672.37" y="586.30" font-size="14.8">4</text>
<text x="130.9" y="22.299999999999997" text-anchor="middle" font-size="13" >250 × 250 m</text>
<text x="260.3" y="22.299999999999997" text-anchor="middle" font-size="13" >500 × 500 m</text>
<text x="490.3" y="22.299999999999997" text-anchor="middle" font-size="13" >250 × 250 m</text>
<text x="619.75" y="22.299999999999997" text-anchor="middle" font-size="13" >500 × 500 m</text>
<text x="130.9" y="324.2" text-anchor="middle" font-size="13" >250 × 250 m</text>
<text x="260.3" y="324.2" text-anchor="middle" font-size="13" >500 × 500 m</text>
<text x="484.90000000000003" y="324.2" text-anchor="middle" font-size="13" >250 × 250 m</text>
<text x="614.35" y="324.2" text-anchor="middle" font-size="13" >500 × 500 m</text>
<text x="71.80" y="250.60" font-size="12.5" font-style="italic">F</text><path d="M372 0L372 703L292 703C272 630 225 596 100 588L100 512L260 512L260 0Z" transform="translate(79.54,254.70) scale(0.00840,-0.00840)" fill="#111" stroke="#111" stroke-width="35.7"/><text x="84.21" y="254.70" font-size="8.4">,29</text><text x="99.36" y="250.60" font-size="12.5">=</text><text x="110.13" y="250.60" font-size="12.5">4.4;</text><text x="136.26" y="250.60" font-size="12.5" font-style="italic">P</text><text x="148.07" y="250.60" font-size="12.5">=</text><text x="158.85" y="250.60" font-size="12.5">0.045</text>
<text x="201.20" y="250.60" font-size="12.5" font-style="italic">F</text><path d="M372 0L372 703L292 703C272 630 225 596 100 588L100 512L260 512L260 0Z" transform="translate(208.94,254.70) scale(0.00840,-0.00840)" fill="#111" stroke="#111" stroke-width="35.7"/><text x="213.61" y="254.70" font-size="8.4">,20</text><text x="228.76" y="250.60" font-size="12.5">=</text><text x="239.53" y="250.60" font-size="12.5">4.7;</text><text x="265.66" y="250.60" font-size="12.5" font-style="italic">P</text><text x="277.47" y="250.60" font-size="12.5">=</text><text x="288.25" y="250.60" font-size="12.5">0.043</text>
<text x="431.20" y="250.60" font-size="12.5" font-style="italic">F</text><path d="M372 0L372 703L292 703C272 630 225 596 100 588L100 512L260 512L260 0Z" transform="translate(438.94,254.70) scale(0.00840,-0.00840)" fill="#111" stroke="#111" stroke-width="35.7"/><text x="443.61" y="254.70" font-size="8.4">,28</text><text x="458.76" y="250.60" font-size="12.5">=</text><text x="469.53" y="250.60" font-size="12.5">4.</text><path d="M372 0L372 703L292 703C272 630 225 596 100 588L100 512L260 512L260 0Z" transform="translate(479.96,250.60) scale(0.01250,-0.01250)" fill="#111" stroke="#111" stroke-width="24.0"/><text x="486.91" y="250.60" font-size="12.5">;</text><text x="495.66" y="250.60" font-size="12.5" font-style="italic">P</text><text x="507.47" y="250.60" font-size="12.5">=</text><text x="518.25" y="250.60" font-size="12.5">0.053</text>
<text x="560.60" y="250.60" font-size="12.5" font-style="italic">F</text><path d="M372 0L372 703L292 703C272 630 225 596 100 588L100 512L260 512L260 0Z" transform="translate(568.34,254.70) scale(0.00840,-0.00840)" fill="#111" stroke="#111" stroke-width="35.7"/><text x="573.01" y="254.70" font-size="8.4">,</text><path d="M372 0L372 703L292 703C272 630 225 596 100 588L100 512L260 512L260 0Z" transform="translate(575.34,254.70) scale(0.00840,-0.00840)" fill="#111" stroke="#111" stroke-width="35.7"/><text x="580.01" y="254.70" font-size="8.4">0</text><text x="588.16" y="250.60" font-size="12.5">=</text><text x="598.93" y="250.60" font-size="12.5">0.2;</text><text x="625.06" y="250.60" font-size="12.5" font-style="italic">P</text><text x="636.87" y="250.60" font-size="12.5">=</text><text x="647.65" y="250.60" font-size="12.5">0.649</text>
<text x="71.80" y="552.50" font-size="12.5" font-style="italic">F</text><path d="M372 0L372 703L292 703C272 630 225 596 100 588L100 512L260 512L260 0Z" transform="translate(79.54,556.60) scale(0.00840,-0.00840)" fill="#111" stroke="#111" stroke-width="35.7"/><text x="84.21" y="556.60" font-size="8.4">,28</text><text x="99.36" y="552.50" font-size="12.5">=</text><text x="110.13" y="552.50" font-size="12.5">2.3;</text><text x="136.26" y="552.50" font-size="12.5" font-style="italic">P</text><text x="148.07" y="552.50" font-size="12.5">=</text><text x="158.85" y="552.50" font-size="12.5">0.</text><path d="M372 0L372 703L292 703C272 630 225 596 100 588L100 512L260 512L260 0Z" transform="translate(169.27,552.50) scale(0.01250,-0.01250)" fill="#111" stroke="#111" stroke-width="24.0"/><text x="176.22" y="552.50" font-size="12.5">44</text>
<text x="201.20" y="552.50" font-size="12.5" font-style="italic">F</text><path d="M372 0L372 703L292 703C272 630 225 596 100 588L100 512L260 512L260 0Z" transform="translate(208.94,556.60) scale(0.00840,-0.00840)" fill="#111" stroke="#111" stroke-width="35.7"/><text x="213.61" y="556.60" font-size="8.4">,60</text><text x="228.76" y="552.50" font-size="12.5">=</text><text x="239.53" y="552.50" font-size="12.5">0.0;</text><text x="265.66" y="552.50" font-size="12.5" font-style="italic">P</text><text x="277.47" y="552.50" font-size="12.5">=</text><text x="288.25" y="552.50" font-size="12.5">0.938</text>
<text x="560.60" y="552.50" font-size="12.5" font-style="italic">F</text><path d="M372 0L372 703L292 703C272 630 225 596 100 588L100 512L260 512L260 0Z" transform="translate(568.34,556.60) scale(0.00840,-0.00840)" fill="#111" stroke="#111" stroke-width="35.7"/><text x="573.01" y="556.60" font-size="8.4">,20</text><text x="588.16" y="552.50" font-size="12.5">=</text><text x="598.93" y="552.50" font-size="12.5">0.4;</text><text x="625.06" y="552.50" font-size="12.5" font-style="italic">P</text><text x="636.87" y="552.50" font-size="12.5">=</text><text x="647.65" y="552.50" font-size="12.5">0.5</text><path d="M372 0L372 703L292 703C272 630 225 596 100 588L100 512L260 512L260 0Z" transform="translate(665.02,552.50) scale(0.01250,-0.01250)" fill="#111" stroke="#111" stroke-width="24.0"/><text x="671.97" y="552.50" font-size="12.5">8</text>
<text x="195.1" y="608.5" text-anchor="middle" font-size="14.9" >Landscape richness</text>
<text x="554.5" y="608.5" text-anchor="middle" font-size="14.9" >Landscape richness</text>
<g transform="translate(14.4,152.9) rotate(-90)"><text x="0" y="0" font-size="15.6">CV</text><text x="21.00" y="-5.30" font-size="10.3">−</text><path d="M372 0L372 703L292 703C272 630 225 596 100 588L100 512L260 512L260 0Z" transform="translate(27.02,-5.30) scale(0.01030,-0.01030)" fill="#111" stroke="#111" stroke-width="29.1"/><text x="17.8" y="10.4" font-size="14.6" letter-spacing="0.5">EVI</text><line x1="18.7" y1="-2.9" x2="41" y2="-2.9" stroke="#111" stroke-width="1"/></g>
<g transform="translate(370.4,160.1) rotate(-90)"><text x="0" y="0" font-size="15.6">CV</text><text x="19.00" y="-5.30" font-size="10.3">−</text><path d="M372 0L372 703L292 703C272 630 225 596 100 588L100 512L260 512L260 0Z" transform="translate(25.02,-5.30) scale(0.01030,-0.01030)" fill="#111" stroke="#111" stroke-width="29.1"/><text x="17.8" y="8.5" font-size="14.6" letter-spacing="0.5">EVI</text><text x="42" y="12.7" font-size="11" letter-spacing="0.3">GS</text></g>
<g transform="translate(14.4,456.2) rotate(-90)"><text x="0" y="0" font-size="15.6">CV</text><text x="21.00" y="-5.30" font-size="10.3">−</text><path d="M372 0L372 703L292 703C272 630 225 596 100 588L100 512L260 512L260 0Z" transform="translate(27.02,-5.30) scale(0.01030,-0.01030)" fill="#111" stroke="#111" stroke-width="29.1"/><text x="15.0" y="10.0" font-size="15.1" letter-spacing="0.15">GSL</text></g>
<g transform="translate(369.4,456.2) rotate(-90)"><text x="0" y="0" font-size="15.6">CV</text><text x="20.20" y="-5.30" font-size="10.3">−</text><path d="M372 0L372 703L292 703C272 630 225 596 100 588L100 512L260 512L260 0Z" transform="translate(26.22,-5.30) scale(0.01030,-0.01030)" fill="#111" stroke="#111" stroke-width="29.1"/><text x="17" y="9.8" font-size="14">α</text><text x="26.2" y="13.7" font-size="10" letter-spacing="0.3">NIR</text></g>
</svg>
</body></html>
